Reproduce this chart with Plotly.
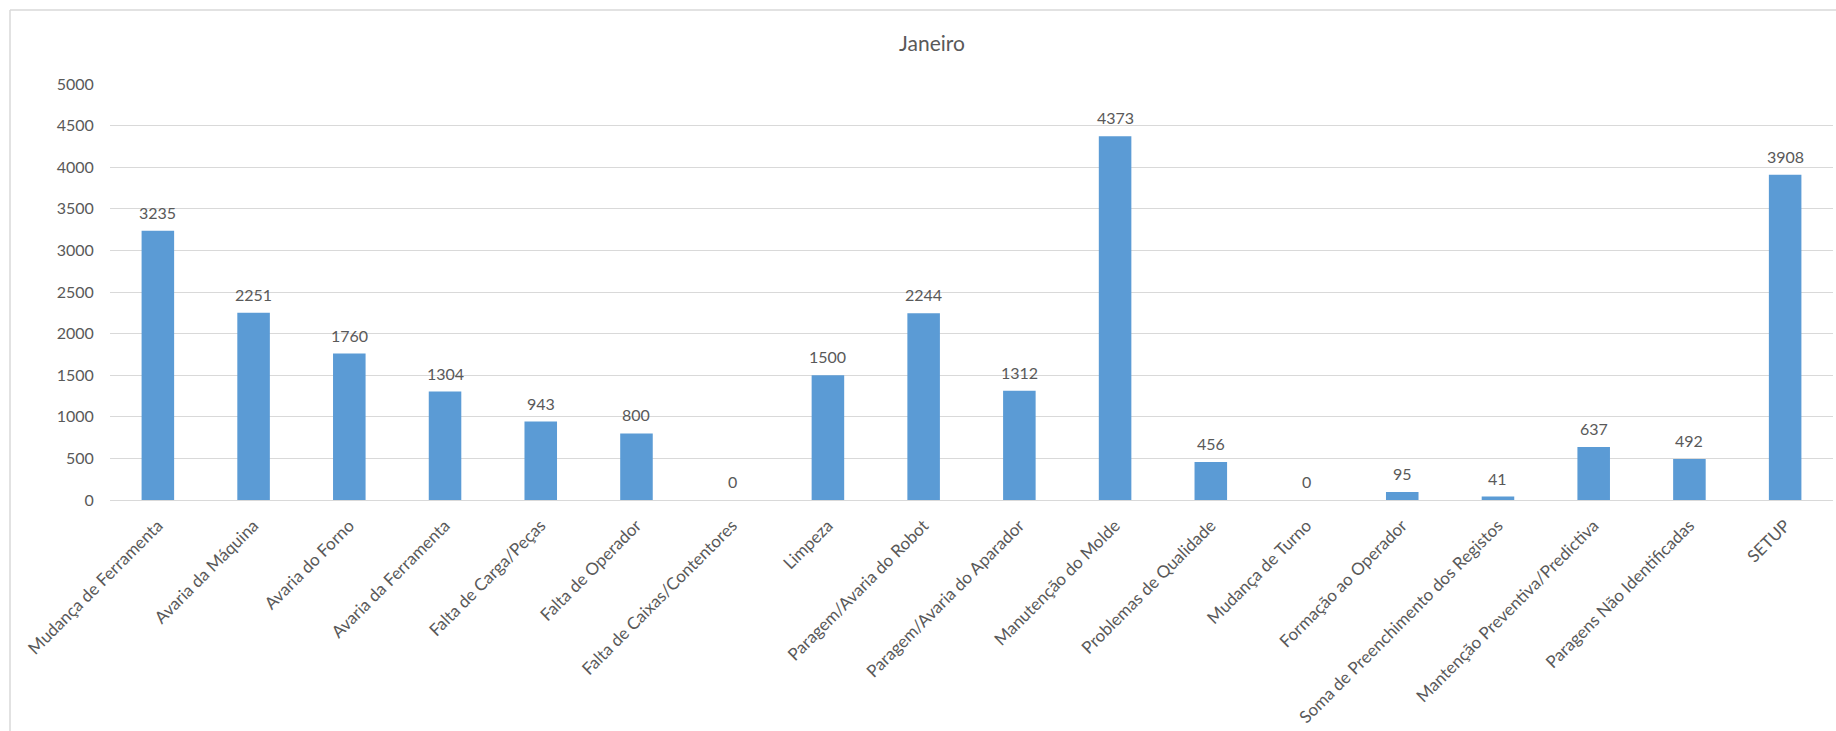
import plotly.graph_objects as go

categories = [
    "Mudança de Ferramenta", "Avaria da Máquina", "Avaria do Forno",
    "Avaria da Ferramenta", "Falta de Carga/Peças", "Falta de Operador",
    "Falta de Caixas/Contentores", "Limpeza", "Paragem/Avaria do Robot",
    "Paragem/Avaria do Aparador", "Manutenção do Molde", "Problemas de Qualidade",
    "Mudança de Turno", "Formação ao Operador", "Soma de Preenchimento dos Registos",
    "Mantenção Preventiva/Predictiva", "Paragens Não Identificadas", "SETUP",
]
values = [3235, 2251, 1760, 1304, 943, 800, 0, 1500, 2244, 1312, 4373, 456, 0, 95, 41, 637, 492, 3908]
title = "Janeiro"

W, H = 1836, 731
L, R, T, B = 110, 3, 84, 231
pw = W - L - R
ph = H - T - B
font = "Lato, 'Open Sans', sans-serif"
grey = "#595959"

fig = go.Figure(go.Bar(
    x=categories, y=values,
    marker=dict(color="#5B9BD5", line=dict(width=0)),
    width=0.34,
))

annotations = [
    dict(x=c, y=v, xref="x", yref="y", text=str(v), showarrow=False,
         yanchor="bottom", yshift=7, font=dict(family=font, size=16, color=grey))
    for c, v in zip(categories, values)
]

fig.update_layout(
    width=W, height=H,
    margin=dict(l=L, r=R, t=T, b=B),
    paper_bgcolor="white", plot_bgcolor="white",
    title=dict(text=title, x=932 / W, xref="container", xanchor="center",
               y=1 - 44 / H, yref="container", yanchor="middle",
               font=dict(family=font, size=21, color=grey)),
    showlegend=False,
    annotations=annotations,
    xaxis=dict(tickangle=-45, tickfont=dict(family=font, size=17, color=grey),
               showline=True, linecolor="#d9d9d9", linewidth=1,
               ticks="outside", ticklen=8, tickcolor="rgba(0,0,0,0)"),
    yaxis=dict(range=[0, 5000], dtick=500, tickfont=dict(family=font, size=16, color=grey),
               gridcolor="#d9d9d9", gridwidth=1, zeroline=False, showline=False,
               ticks="outside", ticklen=12, tickcolor="rgba(0,0,0,0)"),
    shapes=[
        dict(type="line", xref="paper", yref="paper",
             x0=(10 - L) / pw, x1=(10 - L) / pw, y0=1 + (T - 10) / ph, y1=-(B + 10) / ph,
             line=dict(color="#d9d9d9", width=1.5)),
        dict(type="line", xref="paper", yref="paper",
             x0=(10 - L) / pw, x1=1 + (R + 10) / pw, y0=1 + (T - 10) / ph, y1=1 + (T - 10) / ph,
             line=dict(color="#d9d9d9", width=1.5)),
    ],
)

fig.write_html("out.html")
